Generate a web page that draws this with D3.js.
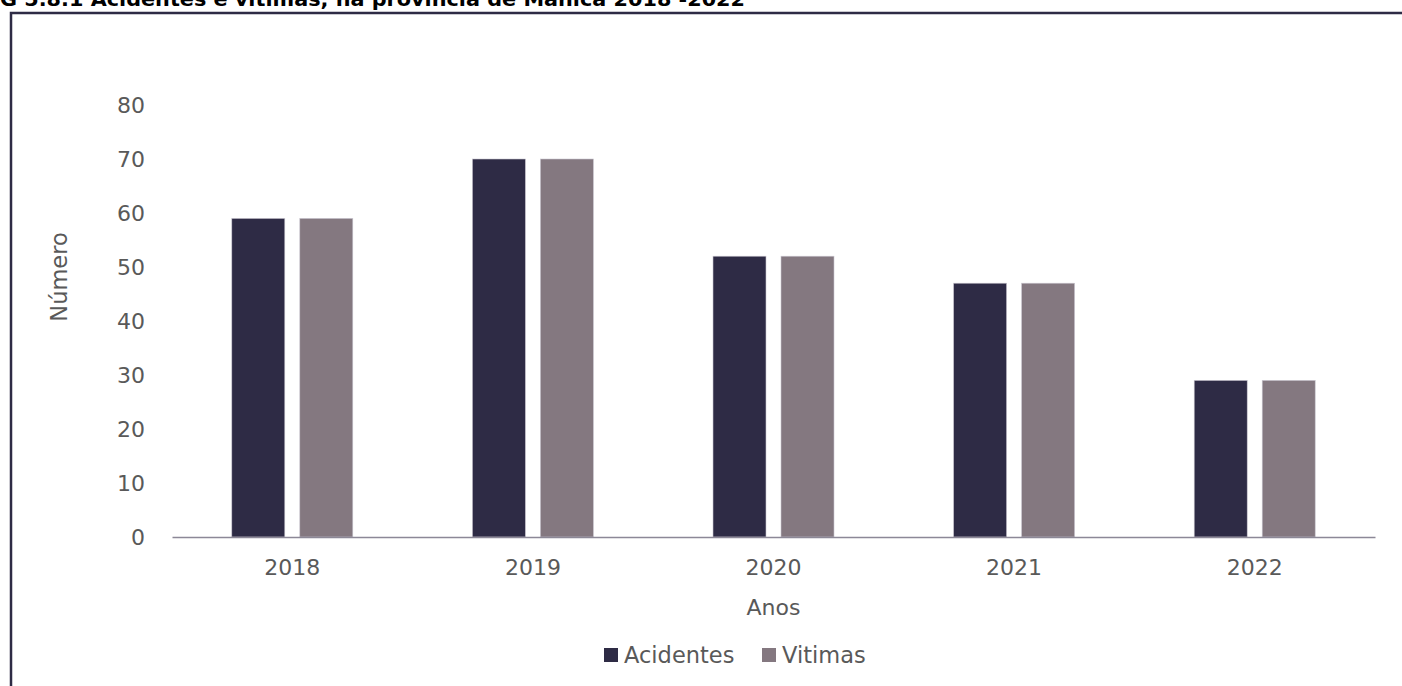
<!DOCTYPE html>
<html>
<head>
<meta charset="utf-8">
<script src="https://cdn.jsdelivr.net/npm/d3@7"></script>
<style>
  html, body { margin: 0; padding: 0; background: #fff; }
  svg { display: block; }
  text { font-family: "DejaVu Sans", Verdana, sans-serif; fill: #595959; }
</style>
</head>
<body>
<div id="chart"></div>
<script>
(function () {
  'use strict';

  var years = ['2018', '2019', '2020', '2021', '2022'];
  var seriesNames = ['Acidentes', 'Vitimas'];
  var acidentes = [59, 70, 52, 47, 29];
  var vitimas = [59, 70, 52, 47, 29];
  var yTicks = [0, 10, 20, 30, 40, 50, 60, 70, 80];
  var colors = ['#2e2b45', '#847880'];
  var titleText = 'G 5.8.1 Acidentes e vitimas, na província de Manica 2018 -2022';

  var width = 1402, height = 686;
  var margin = { left: 172, right: 27, top: 105, bottom: 149 };

  var svg = d3.select('#chart').append('svg')
    .attr('width', width)
    .attr('height', height);

  // title, cut off by the top of the page like in the source
  svg.append('text')
    .attr('x', 0)
    .attr('y', 6)
    .attr('textLength', 745)
    .attr('lengthAdjust', 'spacingAndGlyphs')
    .style('font-weight', 'bold')
    .style('font-size', '19px')
    .style('fill', '#000')
    .text(titleText);

  // outer frame (right and bottom run out of the page)
  svg.append('path')
    .attr('d', 'M11,' + height + 'V13H' + width)
    .attr('fill', 'none')
    .attr('stroke', '#2e2b45')
    .attr('stroke-width', 2.5);

  var x0 = d3.scaleBand()
    .domain(years)
    .range([margin.left, width - margin.right])
    .paddingInner(0)
    .paddingOuter(0);

  var groupW = 121, gap = 15;
  var barW = (groupW - gap) / 2;

  var y = d3.scaleLinear()
    .domain([0, 80])
    .range([height - margin.bottom, margin.top]);

  var rows = years.map(function (yr, i) {
    return { year: yr, values: [acidentes[i], vitimas[i]] };
  });

  // bars
  var groups = svg.selectAll('g.year').data(rows).enter().append('g')
    .attr('class', 'year')
    .attr('transform', function (d) {
      return 'translate(' + (x0(d.year) + (x0.bandwidth() - groupW) / 2) + ',0)';
    });

  groups.selectAll('rect').data(function (d) { return d.values; }).enter().append('rect')
    .attr('x', function (d, i) { return i * (barW + gap); })
    .attr('y', function (d) { return y(d); })
    .attr('width', barW)
    .attr('height', function (d) { return y(0) - y(d); })
    .attr('fill', function (d, i) { return colors[i]; })
    .attr('stroke', '#c9c6cf')
    .attr('stroke-width', 0.6);

  // y axis labels
  var yAxis = d3.axisLeft(y).tickValues(yTicks).tickSize(0).tickPadding(0);
  var yg = svg.append('g')
    .attr('transform', 'translate(145,0)')
    .call(yAxis);
  yg.select('.domain').remove();
  yg.selectAll('text')
    .style('font-size', '22px')
    .style('fill', '#595959')
    .attr('dy', '0.36em');

  // x axis
  var xAxis = d3.axisBottom(x0).tickSize(0).tickPadding(22);
  var xg = svg.append('g')
    .attr('transform', 'translate(0,' + y(0) + ')')
    .call(xAxis);
  xg.select('.domain').attr('stroke', '#8c8897').attr('stroke-width', 1.5);
  xg.selectAll('text')
    .style('font-size', '22px')
    .style('fill', '#595959');

  // axis titles
  svg.append('text')
    .attr('transform', 'translate(67,277) rotate(-90)')
    .attr('text-anchor', 'middle')
    .style('font-size', '22.5px')
    .text('Número');

  svg.append('text')
    .attr('x', (margin.left + width - margin.right) / 2)
    .attr('y', 615)
    .attr('text-anchor', 'middle')
    .style('font-size', '22px')
    .text('Anos');

  // legend
  var legendX = [604, 762];
  var legend = svg.selectAll('g.legend').data(seriesNames).enter().append('g')
    .attr('class', 'legend')
    .attr('transform', function (d, i) { return 'translate(' + legendX[i] + ',648)'; });
  legend.append('rect')
    .attr('width', 14)
    .attr('height', 14)
    .attr('fill', function (d, i) { return colors[i]; });
  legend.append('text')
    .attr('x', 20)
    .attr('y', 7)
    .attr('dy', '0.36em')
    .style('font-size', '22.5px')
    .text(function (d) { return d; });
})();
</script>
</body>
</html>
